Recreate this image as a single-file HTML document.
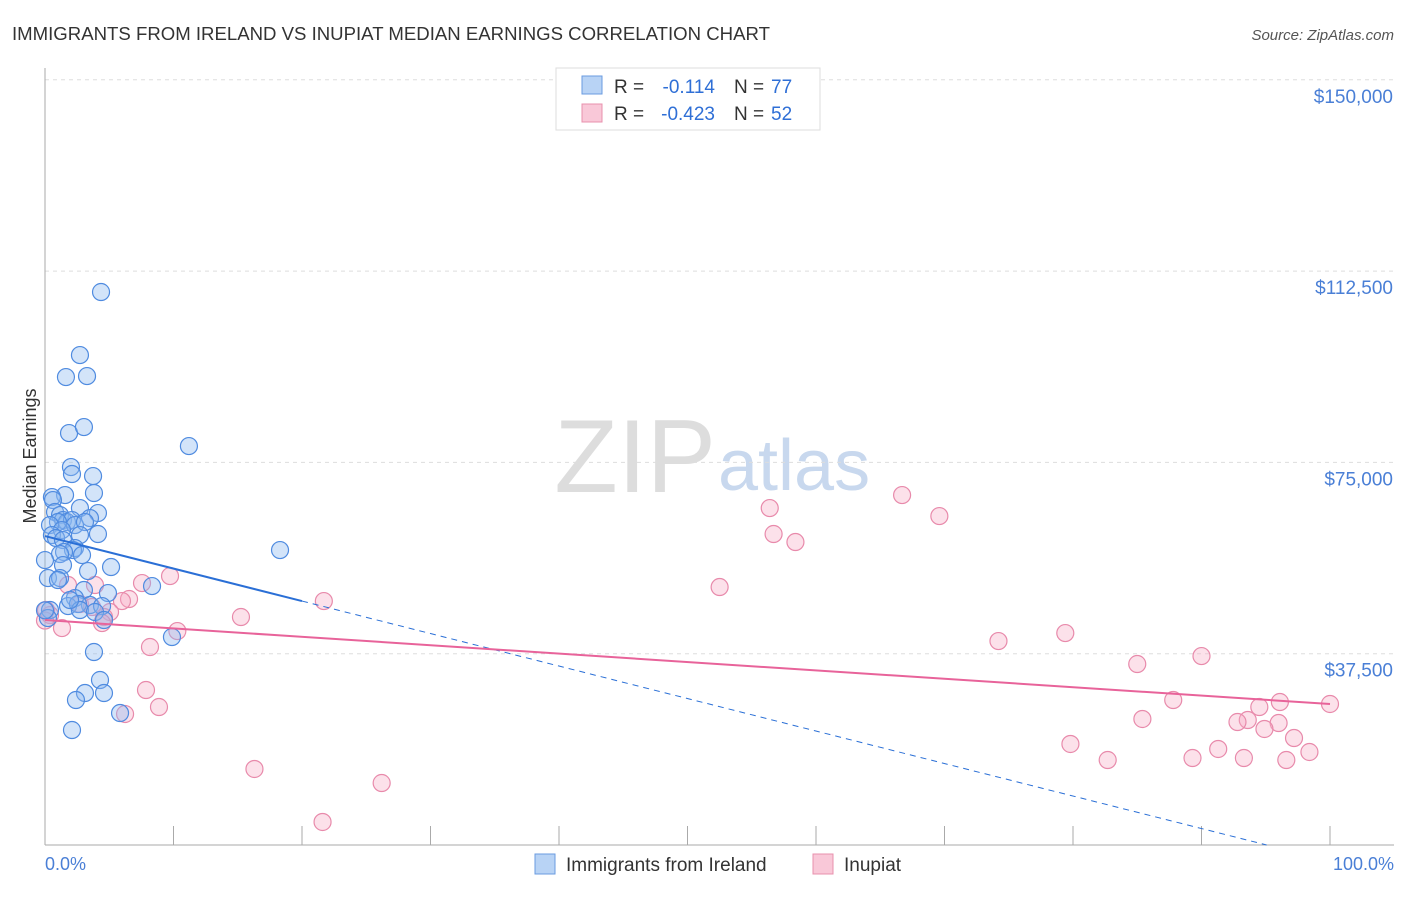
<!DOCTYPE html>
<html><head><meta charset="utf-8"><style>
body{margin:0;background:#fff;font-family:"Liberation Sans",sans-serif;}
svg text{font-family:"Liberation Sans",sans-serif;}
</style></head><body>
<svg id="chart" width="1406" height="892">
<text x="12" y="40" font-size="18.6" fill="#333">IMMIGRANTS FROM IRELAND VS INUPIAT MEDIAN EARNINGS CORRELATION CHART</text>
<text x="1394" y="40" font-size="15" fill="#555" font-style="italic" text-anchor="end">Source: ZipAtlas.com</text>
<text x="716" y="492" font-size="104" fill="#ddd" text-anchor="end" font-family="Liberation Serif">ZIP</text>
<text x="718" y="490" font-size="72" fill="#c8d8ee">atlas</text>
<g id="grid"></g>
<line x1="45" y1="68" x2="45" y2="845" stroke="#aaa"/>
<line x1="45" y1="845" x2="1394" y2="845" stroke="#aaa"/>
<text x="36" y="456" font-size="18" fill="#333" text-anchor="middle" transform="rotate(-90 36 456)">Median Earnings</text>
<text x="45" y="870" font-size="18" fill="#4a7fd6">0.0%</text>
<text x="1394" y="870" font-size="18" fill="#4a7fd6" text-anchor="end">100.0%</text>
<g id="marks"></g>
<g>
<rect x="556" y="68" width="264" height="62" fill="#fff" stroke="#ddd"/>
<rect x="582" y="76" width="20" height="18" fill="#b8d3f5" stroke="#6a9be0"/>
<rect x="582" y="104" width="20" height="18" fill="#f9c8d8" stroke="#e890ad"/>
<text x="614" y="93" font-size="19" fill="#333">R =</text>
<text x="715" y="93" font-size="19" fill="#2f6fd6" text-anchor="end">-0.114</text>
<text x="734" y="93" font-size="19" fill="#333">N =</text>
<text x="771" y="93" font-size="19" fill="#2f6fd6">77</text>
<text x="614" y="120" font-size="19" fill="#333">R =</text>
<text x="715" y="120" font-size="19" fill="#2f6fd6" text-anchor="end">-0.423</text>
<text x="734" y="120" font-size="19" fill="#333">N =</text>
<text x="771" y="120" font-size="19" fill="#2f6fd6">52</text>
</g>
<g>
<rect x="535" y="854" width="20" height="20" fill="#b8d3f5" stroke="#6a9be0"/>
<text x="566" y="871" font-size="19" fill="#333">Immigrants from Ireland</text>
<rect x="813" y="854" width="20" height="20" fill="#f9c8d8" stroke="#e890ad"/>
<text x="844" y="871" font-size="19" fill="#333">Inupiat</text>
</g>
</svg>
<script>
const yTicks=[37500,75000,112500,150000];
const yTickLabels=["$37,500","$75,000","$112,500","$150,000"];
const blueX=[4.36,2.72,1.63,3.27,1.87,3.03,11.2,2.02,2.10,3.74,1.56,3.81,0.54,0.62,2.72,4.12,3.50,0.78,1.17,1.40,1.71,2.10,1.01,0.39,2.33,3.11,1.32,4.12,0.54,0.86,2.72,1.40,2.33,2.18,1.48,1.17,2.88,18.29,5.14,1.40,3.35,0.23,1.17,8.33,3.03,2.33,4.90,1.79,3.50,4.44,2.57,2.72,3.89,4.59,9.88,3.81,4.28,3.11,2.41,4.59,5.84,2.10,0.39,0.23,1.95,1.01,0,0];
const blueY=[108400,96040,91730,91920,80750,81930,78200,74090,72720,72320,68600,69000,68210,67620,66050,65070,64090,65270,64680,63700,63310,63700,63310,62720,62720,63310,61740,60960,60760,60170,60760,59780,58210,57820,57430,57040,56840,57820,54490,54880,53700,52330,52330,50760,49980,48410,49390,46840,47040,46840,47240,46060,45670,44100,40770,37830,32340,29790,28420,29790,25870,22540,46060,44490,48020,51940,55860,46000];
const pinkX=[56.4,66.7,69.6,56.7,58.4,52.5,9.73,7.55,6.54,5.99,3.89,1.79,21.7,15.25,5.06,4.59,4.44,10.3,8.17,1.32,0.39,0.08,2.72,3.66,7.86,8.87,6.23,16.3,26.2,21.6,74.2,79.4,85.0,90.0,87.8,96.1,100,85.4,94.5,93.6,92.8,96.0,94.9,97.2,79.8,91.3,98.4,82.7,89.3,93.3,96.6,0];
const pinkY=[66050,68600,64480,60960,59390,50570,52720,51350,48220,47820,50960,50960,47820,44690,45670,44690,43510,41940,38810,42530,45080,46060,47240,46650,30380,27050,25680,14900,12150,4510,39980,41550,35480,37040,28420,28030,27640,24700,27050,24500,24110,23910,22740,20970,19800,18820,18230,16660,17050,17050,16660,44000];
const blueTrend=[60560,-3140];
const pinkTrend=[44100,27640];
const NS="http://www.w3.org/2000/svg";
const X=v=>45+v*12.85;
const Y=v=>845-v*191.3/37500;
function mk(t,a,p){const e=document.createElementNS(NS,t);for(const k in a)e.setAttribute(k,a[k]);p.appendChild(e);return e;}
const grid=document.getElementById('grid');
yTicks.forEach((t,i)=>{
 const l=mk('line',{x1:45,x2:1394,y1:Y(t),y2:Y(t),stroke:'#ddd','stroke-dasharray':'4,4'},grid);
 
 
 const tx=mk('text',{x:1393,y:Y(t)+23,'font-size':19,fill:'#4a7fd6','text-anchor':'end'},grid);
 tx.textContent=yTickLabels[i];
 
 
});
for(let i=1;i<=10;i++){
 const l=mk('line',{x1:X(i*10),x2:X(i*10),y1:826,y2:845,stroke:'#aaa'},grid);
 
 
}
const marks=document.getElementById('marks');
pinkX.forEach((x,i)=>{
 const c=mk('circle',{cx:X(x),cy:Y(pinkY[i]),r:8.5,fill:'rgba(246,170,196,0.35)',stroke:'#e88aab','stroke-width':1.2},marks);
 
 
});
blueX.forEach((x,i)=>{
 const c=mk('circle',{cx:X(x),cy:Y(blueY[i]),r:8.5,fill:'rgba(140,185,240,0.38)',stroke:'#4f8be0','stroke-width':1.2},marks);
 
 
});
const by=x=>blueTrend[0]+(blueTrend[1]-blueTrend[0])*x/100;
const xEnd=Math.min(100,blueTrend[0]/(blueTrend[0]-blueTrend[1])*100);
let l=mk('line',{x1:X(0),y1:Y(by(0)),x2:X(20),y2:Y(by(20)),stroke:'#2a6fd6','stroke-width':2},marks);


l=mk('line',{x1:X(20),y1:Y(by(20)),x2:X(xEnd),y2:Y(by(xEnd)),stroke:'#2a6fd6','stroke-width':1,'stroke-dasharray':'6,5'},marks);


l=mk('line',{x1:X(0),y1:Y(pinkTrend[0]),x2:X(100),y2:Y(pinkTrend[1]),stroke:'#e8639a','stroke-width':2},marks);


</script>
</body></html>
